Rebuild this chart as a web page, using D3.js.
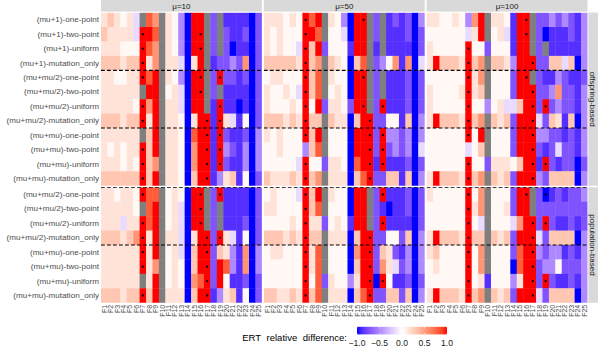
<!DOCTYPE html>
<html>
<head>
<meta charset="utf-8">
<script src="https://cdn.jsdelivr.net/npm/d3@7"></script>
<style>
  body { margin: 0; background: #fff; }
  svg { display: block; font-family: "Liberation Sans", Arial, sans-serif; }
</style>
</head>
<body>
<div id="chart"></div>
<script>
// ---- data -------------------------------------------------------------
const functions = d3.range(1, 26).map(i => "F" + i);
const mus = ["μ=10", "μ=50", "μ=100"];
const facets = ["offspring-based", "population-based"];
const offspringRows = [
    "(mu+1)-one-point", "(mu+1)-two-point", "(mu+1)-uniform", "(mu+1)-mutation_only",
    "(mu+mu/2)-one-point", "(mu+mu/2)-two-point", "(mu+mu/2)-uniform", "(mu+mu/2)-mutation_only",
    "(mu+mu)-one-point", "(mu+mu)-two-point", "(mu+mu)-uniform", "(mu+mu)-mutation_only"
];
const populationRows = [
    "(mu+mu/2)-one-point", "(mu+mu/2)-two-point", "(mu+mu/2)-uniform", "(mu+mu/2)-mutation_only",
    "(mu+mu)-one-point", "(mu+mu)-two-point", "(mu+mu)-uniform", "(mu+mu)-mutation_only"
];
const legendTicks = [-1, -0.5, 0, 0.5, 1];

// cell code -> ERT relative difference (N = no value, drawn grey)
const levels = { R: 1, r: 0.8, o: 0.55, p: 0.3, q: 0.15, w: 0.04, v: -0.15, l: -0.5, m: -0.73, b: -0.88, B: -1, N: null };

// one string per row (12 offspring-based rows, then 8 population-based), one char per F1..F25
const ert10 = [
    "qpqwqvNroNqwlBRRNmNbbbbBm", "pqqqqvRRrNqwlBRRNmNmbbmBm", "qqqwwwRroNqwlBRRNmNmBbbBm", "pppqppRqoNqqvBqRNbmmlmoBm",
    "qqwwqqRrRNqwlBRRNmRmmbmBm", "qqqqqqNRRNwqvBRRNmNbbbbBm", "qqqqqwRoRNqqvBRRNbRbbBbBm", "pppqppRqRNqqwBqRRbRqvbwBm",
    "qqqqqqNpRNqqwBrRRbRmbbmBl", "qwqwqqRpRNqqwBoRRbRlmblBl", "qqqwqwRpoNqqwBoRRbRmbblBl", "ppppppRpRNqqwBpRRblqpbwBm",
    "qqwqqwRrrNwqwBRRNmRbbbbBm", "qqqqqwNrRNwqvBRRNmNbbbbBm", "qqqvqqRrRNwqvBRRNmNbbbmBm", "pppqpoRqRNqqvBqRRmRqvbwBm",
    "qqqqqqRqRNwqvBpRRmpqlboBl", "qqqqqqRqoNwqwBpRRmRrlboBl", "qqqqqqNqRNwqwBorRmRwbbmBm", "pppqppRpRNqqqBpRRblqpbwBm"
];
const ert50 = [
    "qqqwqwRrRNqwlBRRNmNbmbmBl", "qwqwwwRRrNwwvBRRNmNbbbmBm", "qwqwwvRpRmwwwbRRNbNbbbbBm", "pppppqRpoNpqwBprNmlwoboBv",
    "wqqwwwRprNqwwBRRNmNbbbmBm", "qwwqwvRprNwqwBRRNmNbbbmBm", "qwwwqwRwRmqqwmRRNmRbbbmBm", "pppqpqRppNpqqBpRRmmwwbpBl",
    "qwqwwwRpRNwwwBRRRmRllmlBl", "wwqwwwlprNwwwBRRRmRmlmlBv", "wwwwwvRwwmqqwBrRRbRbbbmBm", "pqqqpqRpoNqqqBprRmmppbpBl",
    "wqwwwvRpRNqwwBRRNmRbbbmBm", "qqwwwwRprNwwwBRRNmbBbbmBm", "wwwwqwRqqmwqwbRRNmRbbbbBm", "pppqpqRppNqqqBpRRmmwwmpBl",
    "wqqwwwRqrNwwwBoRRmpqmblBl", "wwwwwwRqrNwwwBpRRmoqvmlBl", "wwwwwwRwrmqwwlqRRBRwbbmBm", "ppqqpqRprNqqqBprRmmppmpBl"
];
const ert100 = [
    "qqwwqwloRNqqwbRRNmmlmlmbl", "wwwwwwvqRNwqvbRRNmBbbbmbl", "qwwwwwRwwmwwwbRRNmNbbbbbl", "qRpppqRpoNppqlRRRmmppvpBl",
    "wwwwwwRqoNwwwmRRNmbblmbbm", "qwwwwqRqpNwwwmRRRmmlommbl", "qwwwwwRwwlwqvvpRRmRmlmmbl", "qRpppqRpoNpqpmRRRvmpqbpBl",
    "wwwwwwRwRNwwwmRRRllmmbmbl", "wwwwwwvwpNwwwmRRRmbmvmmbl", "wwwwwwRwwmqqqwpRRbRmbmmBm", "qRpppqRpoNpqpmRRRlmppppBl",
    "qwwwwwRwoNwwwmRRNmBbmbmml", "wwwwwwRqoNwwqmRRNmmmmmmmm", "wwwwwwRwvNwwwvoRRmRmbbmbm", "qRpppqRppNpqpmRRRvmppppBl",
    "qpwwwwRwoNwwwmrRRlmllbmbl", "wqwwwwRwoNwwwBrRRmllwmmml", "wwwwwwRwqbwwwlqRRmRmbbmbl", "qRpppqRpoNpqpmRRRvmppppBl"
];

// significant cells (dots): F-numbers per row
const sig10 = [
    [], [7, 16], [7, 16], [7], [7, 16, 19], [16], [7, 19], [7, 17, 19], [17, 19], [7, 17, 19], [7, 17, 19], [7, 17],
    [7, 16, 19], [16], [7, 16], [7, 17, 19], [7, 17], [7, 17], [17], [7, 17]
];
const sig50 = [
    [7, 16], [7], [7], [7], [7, 16], [7], [7, 16, 19], [7, 17], [7, 17, 19], [17, 19], [7, 17, 19], [7, 17],
    [7, 19], [7], [7, 19], [7, 17], [7, 17], [7, 17], [7, 17, 19], [7, 17]
];
const sig100 = [
    [16], [16], [7], [7, 17], [7, 16], [7, 17], [7, 17, 19], [7, 17], [7, 17], [17], [7, 17, 19], [7, 17],
    [7, 16, 19], [7], [7, 17, 19], [7, 17], [7, 17], [7, 17], [7, 17, 19], [7, 17]
];

// ---- layout -----------------------------------------------------------
const W = 598, H = 347;
const svg = d3.select("#chart").append("svg").attr("width", W).attr("height", H);

const color = d3.scaleLinear()
    .domain([-1, 0, 1])
    .range(["#0000ff", "#ffffff", "#ff0000"])
    .interpolate(d3.interpolateLab)
    .clamp(true);
const naColor = "#7f7f7f";

const panelX = d3.scaleBand().domain(mus).range([101, 587.5]).paddingInner(0.012);

const panels = [
    { mu: mus[0], codes: ert10, dots: sig10 },
    { mu: mus[1], codes: ert50, dots: sig50 },
    { mu: mus[2], codes: ert100, dots: sig100 }
];
const facetRows = [
    { name: facets[0], rows: offspringRows, y0: 12.6, y1: 185.7, offset: 0, lines: [4, 8] },
    { name: facets[1], rows: populationRows, y0: 187.3, y1: 302.7, offset: 12, lines: [0, 4] }
];
facetRows.forEach(f => {
    f.y = d3.scaleBand().domain(f.rows.map((r, i) => i)).range([f.y0, f.y1]);
});

const defs = svg.append("defs");

panels.forEach((p, pi) => {
    const x0 = panelX(p.mu);
    const x = d3.scaleBand().domain(functions).range([x0, x0 + panelX.bandwidth()]);

    facetRows.forEach((f, fi) => {
        const clipId = `clip-${pi}-${fi}`;
        defs.append("clipPath").attr("id", clipId)
            .append("rect")
            .attr("x", x0).attr("y", f.y0)
            .attr("width", panelX.bandwidth()).attr("height", f.y1 - f.y0);

        const g = svg.append("g").attr("clip-path", `url(#${clipId})`);

        const cells = [];
        f.rows.forEach((r, ri) => {
            const codeRow = p.codes[f.offset + ri];
            functions.forEach((fn, ci) => {
                cells.push({ row: ri, fn: fn, value: levels[codeRow[ci]] });
            });
        });

        g.selectAll("rect.cell")
            .data(cells)
            .join("rect")
            .attr("class", "cell")
            .attr("x", d => x(d.fn))
            .attr("y", d => f.y(d.row))
            .attr("width", x.bandwidth() + 0.4)
            .attr("height", f.y.bandwidth() + 0.4)
            .attr("fill", d => d.value === null ? naColor : color(d.value));

        const dots = [];
        f.rows.forEach((r, ri) => {
            p.dots[f.offset + ri].forEach(n => dots.push({ row: ri, fn: "F" + n }));
        });
        g.selectAll("circle.sig")
            .data(dots)
            .join("circle")
            .attr("class", "sig")
            .attr("cx", d => x(d.fn) + x.bandwidth() / 2)
            .attr("cy", d => f.y(d.row) + f.y.bandwidth() / 2)
            .attr("r", 1.15)
            .attr("fill", "#000");

        // dashed separators between crossover groups
        g.selectAll("line.sep")
            .data(f.lines)
            .join("line")
            .attr("class", "sep")
            .attr("x1", x0).attr("x2", x0 + panelX.bandwidth())
            .attr("y1", d => f.y(d))
            .attr("y2", d => f.y(d))
            .attr("stroke", "#000")
            .attr("stroke-width", 1.2)
            .attr("stroke-dasharray", "3.8,2.2");
    });

    // x axis labels
    svg.append("g").selectAll("text")
        .data(functions)
        .join("text")
        .attr("transform", d => `translate(${x(d) + x.bandwidth() / 2},304.8) rotate(-90)`)
        .attr("text-anchor", "end")
        .attr("dominant-baseline", "central")
        .attr("font-size", 7)
        .attr("fill", "#4d4d4d")
        .text(d => d);

    // top strip
    svg.append("rect")
        .attr("x", x0).attr("y", 0)
        .attr("width", panelX.bandwidth()).attr("height", 11.6)
        .attr("fill", "#d9d9d9");
    svg.append("text")
        .attr("x", x0 + panelX.bandwidth() / 2).attr("y", 6)
        .attr("text-anchor", "middle")
        .attr("dominant-baseline", "central")
        .attr("font-size", 8)
        .attr("fill", "#1a1a1a")
        .text(p.mu);
});

// right strips and row labels
facetRows.forEach(f => {
    svg.append("rect")
        .attr("x", 588.3).attr("y", f.y0)
        .attr("width", 12).attr("height", f.y1 - f.y0)
        .attr("fill", "#d9d9d9");
    svg.append("text")
        .attr("transform", `translate(592.5,${(f.y0 + f.y1) / 2}) rotate(90)`)
        .attr("text-anchor", "middle")
        .attr("dominant-baseline", "central")
        .attr("font-size", 8)
        .attr("fill", "#1a1a1a")
        .text(f.name);

    svg.append("g").selectAll("text")
        .data(f.rows)
        .join("text")
        .attr("x", 99)
        .attr("y", (d, i) => f.y(i) + f.y.bandwidth() / 2)
        .attr("text-anchor", "end")
        .attr("dominant-baseline", "central")
        .attr("font-size", 8.1)
        .attr("fill", "#4d4d4d")
        .text(d => d);
});

// ---- legend -----------------------------------------------------------
const lx = d3.scaleLinear().domain([-1, 1]).range([357, 447]);
const grad = defs.append("linearGradient").attr("id", "ertGrad");
d3.range(0, 1.0001, 0.05).forEach(t => {
    grad.append("stop")
        .attr("offset", t)
        .attr("stop-color", color(-1 + 2 * t));
});
svg.append("rect")
    .attr("x", lx(-1)).attr("y", 326.8)
    .attr("width", lx(1) - lx(-1)).attr("height", 7.6)
    .attr("fill", "url(#ertGrad)");
svg.append("g").selectAll("line")
    .data(legendTicks)
    .join("line")
    .attr("x1", d => lx(d)).attr("x2", d => lx(d))
    .attr("y1", 326.8).attr("y2", 328.3)
    .attr("stroke", "#fff").attr("stroke-width", 0.5);
svg.append("g").selectAll("line")
    .data(legendTicks)
    .join("line")
    .attr("x1", d => lx(d)).attr("x2", d => lx(d))
    .attr("y1", 332.9).attr("y2", 334.4)
    .attr("stroke", "#fff").attr("stroke-width", 0.5);
svg.append("g").selectAll("text")
    .data(legendTicks)
    .join("text")
    .attr("x", d => lx(d))
    .attr("y", 345.8)
    .attr("text-anchor", "middle")
    .attr("font-size", 8.6)
    .attr("fill", "#1a1a1a")
    .text(d => d3.format(".1f")(d).replace("-", "−"));
svg.append("text")
    .attr("x", 347)
    .attr("y", 337)
    .attr("text-anchor", "end")
    .attr("dominant-baseline", "central")
    .attr("font-size", 9.5)
    .attr("word-spacing", 3)
    .attr("fill", "#000")
    .text("ERT relative difference:");
</script>
</body>
</html>
